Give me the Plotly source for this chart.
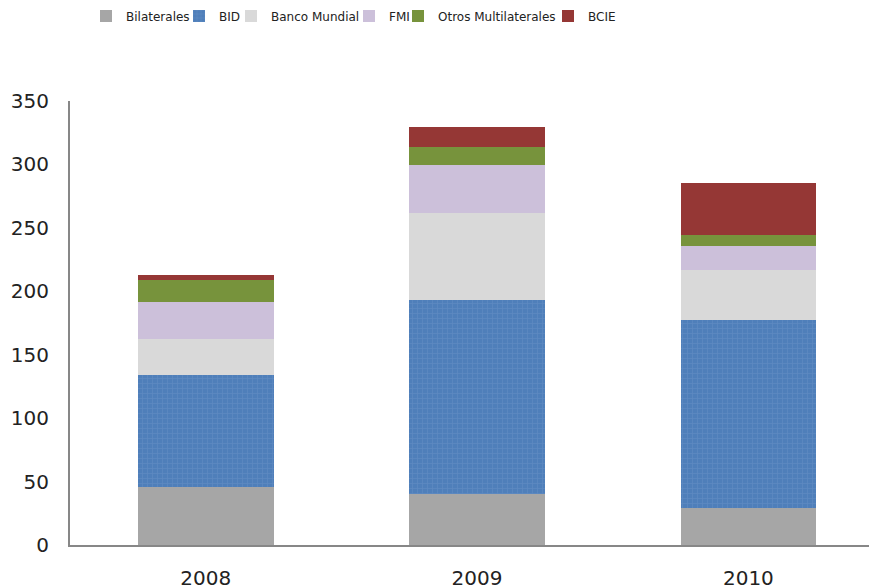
import plotly.graph_objects as go

years = ["2008", "2009", "2010"]
series_names = ["Bilaterales", "BID", "Banco Mundial", "FMI", "Otros Multilaterales", "BCIE"]
bilaterales = [45.7, 40.2, 29.2]
bid = [88.3, 152.9, 148.2]
banco_mundial = [28.4, 68.6, 39.4]
fmi = [29.1, 37.8, 18.9]
otros = [17.4, 14.2, 8.7]
bcie = [3.9, 15.8, 41.0]
y_ticks = [0, 50, 100, 150, 200, 250, 300, 350]

values = [bilaterales, bid, banco_mundial, fmi, otros, bcie]
colors = ["#a6a6a6", "#4f7fba", "#d9d9d9", "#ccc0da", "#77933c", "#953735"]

# the page adds an 8px body margin, so the figure is sized to fit the window
W, H = 869, 580
L, R, T, B = 62, 0, 93, 43
plot_w = W - L - R
plot_h = H - T - B

legend_ids = ["legend", "legend2", "legend3", "legend4", "legend5", "legend6"]
legend_px = [78, 171, 223, 341, 390, 540]

fig = go.Figure()
for name, vals, col, lid in zip(series_names, values, colors, legend_ids):
    marker = dict(color=col, line=dict(width=0))
    if name == "BID":
        marker["pattern"] = dict(shape="+", fgcolor="#6e95c9", size=5, solidity=0.25)
    fig.add_trace(go.Bar(name=name, x=years, y=vals, marker=marker, width=0.5, legend=lid))

legend_y = (H - B - 8) / plot_h
layout_legends = {}
for lid, px in zip(legend_ids, legend_px):
    layout_legends[lid] = dict(
        x=(px - L) / plot_w, xanchor="left", y=legend_y, yanchor="middle",
        orientation="h", itemwidth=30, bgcolor="rgba(0,0,0,0)",
        font=dict(size=12, family="DejaVu Sans", color="#222222"),
    )

fig.update_layout(
    barmode="stack",
    width=W, height=H,
    margin=dict(l=L, r=R, t=T, b=B, autoexpand=False),
    paper_bgcolor="white", plot_bgcolor="white",
    font=dict(family="DejaVu Sans", color="#222222"),
    xaxis=dict(range=[-0.5, 2.474], showline=True, linecolor="#878787", linewidth=2,
               ticks="", tickfont=dict(size=20, color="#222222"), ticklabelstandoff=14,
               showgrid=False, zeroline=False, automargin=False),
    yaxis=dict(range=[0, 350], tickvals=y_ticks, showline=True, linecolor="#878787",
               linewidth=2, ticks="", tickfont=dict(size=20, color="#222222"),
               ticklabelstandoff=15, showgrid=False, zeroline=False, automargin=False),
    showlegend=True,
    **layout_legends,
)

fig.write_html("out.html")
